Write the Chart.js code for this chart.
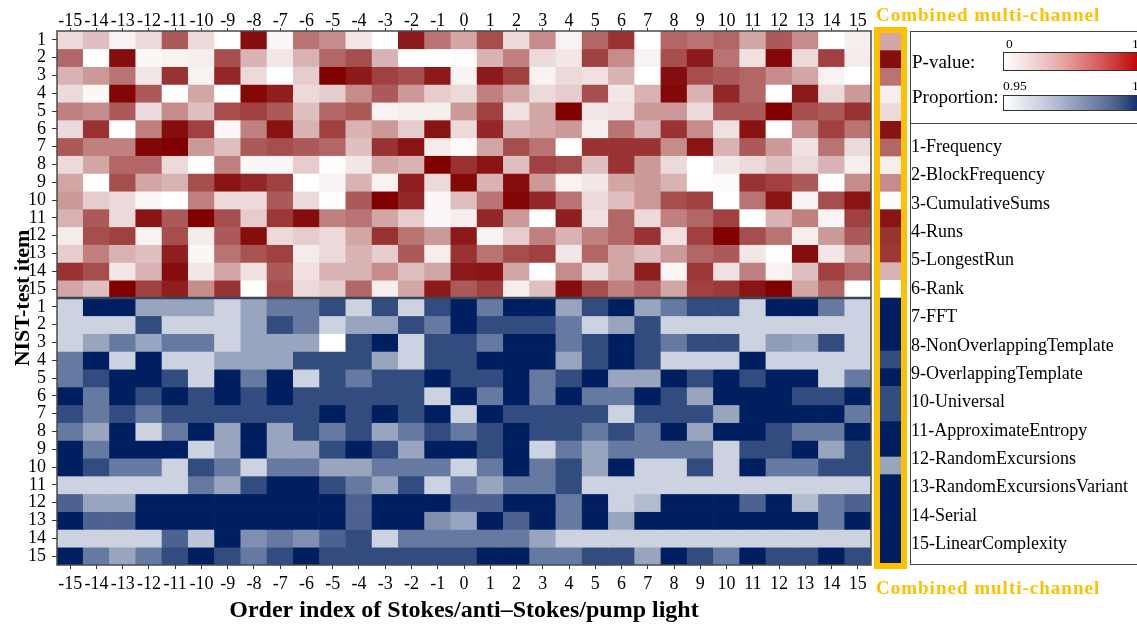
<!DOCTYPE html>
<html>
<head>
<meta charset="utf-8">
<script src="https://cdn.jsdelivr.net/npm/chart.js@4/dist/chart.umd.min.js"></script>
<style>
  html, body { margin: 0; padding: 0; background: #fff; }
  body { width: 1137px; height: 627px; position: relative; overflow: hidden;
         font-family: 'Liberation Serif', 'Times New Roman', serif; color: #000; }
  #main { position: absolute; left: 0; top: 0; }
  #combFrame { position: absolute; left: 874px; top: 27px; width: 21px; height: 530px;
               border: 6px solid #ffc000; }
  #comb { display: block; }
  .combTitle { position: absolute; left: 876px; font-weight: bold; font-size: 19px; line-height: 1;
               letter-spacing: 1px; color: #ffc000; white-space: nowrap; }
  #legendBox { position: absolute; left: 910px; top: 31px; width: 240px; height: 534px;
               border: 1.5px solid #444; box-sizing: border-box; }
  #legendDivider { position: absolute; left: 910px; top: 122.5px; width: 240px; height: 0;
                   border-top: 1.5px solid #444; }
  .lgText { position: absolute; line-height: 1; white-space: nowrap; }
  .bar { position: absolute; left: 1003px; width: 150px; box-sizing: border-box; border: 1.5px solid #333; }
  #pBar { top: 52px; height: 19px;
          background: linear-gradient(to right, #ffffff 0%, #f2d4d4 20%, #e6a4a4 40%, #d86a6a 60%, #c83232 78%, #c00000 92%, #a80000 100%); }
  #qBar { top: 95px; height: 16px;
          background: linear-gradient(to right, #ffffff 0%, #c9d0df 25%, #8e9bbb 50%, #4f6290 75%, #0a2a66 92%, #002060 100%); }
  #testList { position: absolute; left: 911px; top: 132px; }
  #testList div { height: 28.36px; line-height: 28.36px; font-size: 18px; white-space: nowrap; }
</style>
</head>
<body>
<canvas id="main" width="880" height="627"></canvas>
<div id="combFrame"><canvas id="comb" width="21" height="530"></canvas></div>
<div class="combTitle" style="top:5px;">Combined multi-channel</div>
<div class="combTitle" style="top:578px;">Combined multi-channel</div>

<div id="legendBox"></div>
<div id="legendDivider"></div>
<div class="lgText" style="left:912px; top:52px; font-size:19px;">P-value:</div>
<div class="lgText" style="left:912px; top:87px; font-size:19px;">Proportion:</div>
<div class="lgText" style="left:1006px; top:37px; font-size:13.5px;">0</div>
<div class="lgText" style="left:1132px; top:37px; font-size:13.5px;">1</div>
<div class="lgText" style="left:1003px; top:79px; font-size:13.5px;">0.95</div>
<div class="lgText" style="left:1132px; top:79px; font-size:13.5px;">1</div>
<div class="bar" id="pBar"></div>
<div class="bar" id="qBar"></div>
<div id="testList"></div>

<script>
// Order indices of the Stokes / anti-Stokes / pump lines (columns)
const orderLabels = ['-15','-14','-13','-12','-11','-10','-9','-8','-7','-6','-5','-4','-3','-2','-1',
                     '0','1','2','3','4','5','6','7','8','9','10','11','12','13','14','15'];

// NIST SP800-22 test items
const testNames = ['Frequency','BlockFrequency','CumulativeSums','Runs','LongestRun','Rank','FFT',
  'NonOverlappingTemplate','OverlappingTemplate','Universal','ApproximateEntropy',
  'RandomExcursions','RandomExcursionsVariant','Serial','LinearComplexity'];

// P-values, one row per test item, one entry per order index (-15 .. 15)
const pValueRows = [
  [0.15,0.25,0.05,0.15,0.65,0.15,0.0,0.95,0.03,0.55,0.45,0.1,0.0,0.9,0.55,0.35,0.7,0.15,0.45,0.05,0.6,0.8,0.0,0.6,0.55,0.6,0.35,0.65,0.45,0.0,0.07],
  [0.6,0.0,0.95,0.03,0.05,0.07,0.7,0.3,0.1,0.3,0.6,0.7,0.3,0.0,0.0,0.01,0.3,0.5,0.15,0.1,0.75,0.45,0.05,0.7,0.9,0.55,0.12,0.97,0.15,0.75,0.08],
  [0.3,0.4,0.55,0.1,0.8,0.05,0.85,0.15,0.0,0.2,1.0,0.9,0.75,0.7,0.9,0.05,0.9,0.75,0.05,0.15,0.12,0.3,0.0,0.95,0.7,0.65,0.6,0.45,0.35,0.05,0.0],
  [0.15,0.03,0.98,0.65,0.0,0.35,0.0,0.97,0.88,0.15,0.2,0.45,0.65,0.4,0.2,0.15,0.5,0.35,0.15,0.2,0.7,0.1,0.3,0.97,0.3,0.85,0.6,0.0,0.9,0.15,0.4],
  [0.5,0.45,0.65,0.15,0.45,0.25,0.7,0.75,0.65,0.25,0.6,0.65,0.05,0.07,0.07,0.4,0.75,0.12,0.35,1.0,0.1,0.12,0.4,0.4,0.15,0.65,0.65,1.0,0.7,0.65,0.8],
  [0.15,0.8,0.0,0.5,0.95,0.75,0.03,0.5,0.93,0.3,0.75,0.3,0.4,0.2,0.92,0.15,0.85,0.3,0.35,0.4,0.07,0.55,0.3,0.8,0.45,0.12,0.93,0.0,0.45,0.75,0.55],
  [0.65,0.5,0.5,0.98,1.0,0.4,0.25,0.65,0.7,0.65,0.6,0.25,0.8,0.92,0.08,0.02,0.35,0.7,0.55,0.0,0.8,0.8,0.8,0.45,0.92,0.3,0.65,0.4,0.12,0.55,0.15],
  [0.15,0.35,0.6,0.6,0.15,0.0,0.5,0.03,0.03,0.2,0.01,0.1,0.35,0.3,1.0,0.8,0.92,0.25,0.75,0.7,0.25,0.8,0.4,0.15,0.0,0.1,0.15,0.25,0.15,0.3,0.07],
  [0.35,0.0,0.7,0.35,0.3,0.7,0.92,0.85,0.75,0.0,0.05,0.3,0.05,0.88,0.15,0.97,0.3,0.95,0.4,0.05,0.1,0.35,0.4,0.3,0.0,0.02,0.8,0.75,0.65,0.0,0.45],
  [0.4,0.2,0.15,0.03,0.0,0.5,0.15,0.15,0.65,0.15,0.01,0.65,1.0,0.85,0.03,0.25,0.55,0.98,0.85,0.55,0.15,0.25,0.4,0.7,0.75,0.0,0.55,0.92,0.05,0.7,0.92],
  [0.3,0.65,0.15,0.92,0.65,1.0,0.7,0.2,0.78,0.95,0.5,0.55,0.35,0.2,0.03,0.07,0.85,0.4,0.0,0.88,0.12,0.6,0.15,0.5,0.6,0.75,0.0,0.3,0.5,0.04,0.75],
  [0.08,0.7,0.75,0.05,0.7,0.08,0.65,0.95,0.15,0.2,0.15,0.35,0.8,0.55,0.4,0.9,0.05,0.2,0.5,0.3,0.5,0.6,0.8,0.12,0.75,1.0,0.7,0.55,0.07,0.4,0.65],
  [0.2,0.5,0.3,0.25,0.88,0.03,0.55,0.68,0.75,0.08,0.15,0.3,0.2,0.65,0.07,0.8,0.55,0.7,0.75,0.1,0.6,0.35,0.25,0.4,0.6,0.65,0.1,0.0,0.95,0.1,0.35],
  [0.8,0.7,0.1,0.3,0.95,0.1,0.35,0.12,0.65,0.12,0.3,0.3,0.45,0.25,0.35,0.9,0.92,0.35,0.0,0.45,0.15,0.35,0.88,0.04,0.78,0.12,0.5,0.05,0.25,0.75,0.6],
  [0.35,0.25,1.0,0.75,0.88,0.45,0.8,0.0,0.7,0.15,0.2,0.6,0.07,0.35,0.9,0.65,0.75,0.07,0.25,0.95,0.7,0.5,0.6,0.35,0.75,0.78,0.92,1.0,0.35,0.6,0.0]
];

// Pass proportions, same layout
const proportionRows = [
  [0.96,1,1,0.97,0.97,0.97,0.96,0.97,0.98,0.98,0.99,0.96,0.99,0.96,0.99,1,0.98,1,1,0.97,0.99,1,0.97,0.98,0.99,0.99,0.96,1,1,0.98,0.96],
  [0.96,0.96,0.96,0.99,0.96,0.96,0.96,0.97,0.99,0.98,0.96,0.97,0.97,0.99,0.98,1,0.99,0.99,0.99,0.98,0.96,0.97,0.99,0.96,0.96,0.96,0.96,0.96,0.96,0.96,0.96],
  [0.96,0.97,0.98,0.97,0.98,0.98,0.96,0.97,0.97,0.97,0.95,0.99,1,0.96,0.99,0.99,0.98,1,1,0.98,0.99,1,0.99,0.98,0.99,0.99,0.96,0.972,0.97,0.99,0.96],
  [0.98,1,0.96,1,0.96,0.96,0.97,0.97,0.97,0.99,0.99,0.99,0.97,0.96,0.99,0.99,1,1,1,0.97,0.99,1,0.99,0.96,0.96,0.96,1,0.96,0.96,0.96,0.96],
  [0.98,0.99,1,1,0.99,0.96,1,0.98,1,0.96,0.99,0.98,0.99,0.99,1,0.99,0.99,1,0.98,0.99,1,0.97,0.97,1,0.99,1,0.99,1,1,0.96,0.98],
  [1,0.98,1,0.99,1,0.99,1,0.99,1,0.99,0.99,0.99,0.99,0.99,0.96,1,0.98,1,0.98,1,0.98,0.98,1,0.99,0.97,1,1,1,0.99,0.99,1],
  [0.99,0.98,0.99,0.98,0.99,0.99,0.99,0.99,0.99,0.99,1,0.99,1,0.99,1,0.96,1,0.99,0.99,0.99,0.99,0.96,0.99,0.99,0.99,0.97,1,1,1,1,0.98],
  [0.98,0.97,1,0.96,0.98,1,0.97,1,0.97,0.99,0.98,0.99,0.97,0.98,0.99,0.98,0.99,1,0.99,0.99,0.98,0.99,0.98,1,0.97,1,1,0.99,0.98,0.98,1],
  [1,0.98,1,1,1,0.96,0.97,1,0.97,0.97,0.99,1,0.99,0.97,1,1,0.99,1,0.96,0.98,0.97,0.98,0.98,0.98,0.98,0.96,0.99,0.99,1,0.97,0.99],
  [1,0.99,0.98,0.98,0.96,0.99,0.98,0.96,0.98,0.98,0.97,0.97,0.98,0.98,0.98,0.96,0.98,1,0.98,0.99,0.97,1,0.96,0.96,0.99,0.96,1,0.98,0.98,0.99,0.99],
  [0.96,0.96,0.96,0.96,0.96,0.98,0.97,0.99,1,1,0.99,0.98,0.97,0.99,0.96,0.98,0.97,0.98,0.98,0.99,0.96,0.96,0.96,0.96,0.96,0.96,0.96,0.96,0.96,0.96,0.96],
  [0.985,0.97,0.97,1,1,1,1,1,1,1,1,0.985,1,1,1,0.985,0.985,1,1,0.98,1,0.96,0.965,1,1,1,0.985,1,0.965,0.98,0.985],
  [1,0.985,0.985,1,1,1,1,1,1,1,1,0.985,1,1,0.975,0.97,1,0.985,1,0.98,1,0.97,1,1,1,1,1,1,1,0.98,1],
  [0.96,0.96,0.96,0.96,0.985,0.963,1,0.975,0.98,0.975,0.985,0.99,0.96,0.98,0.98,0.98,0.98,0.98,0.97,0.96,0.96,0.96,0.96,0.96,0.96,0.96,0.96,0.96,0.96,0.96,0.96],
  [1,0.98,0.97,0.98,0.99,1,0.99,0.98,0.99,1,0.99,0.99,0.99,0.99,0.99,0.99,1,1,0.98,0.98,0.99,0.99,0.97,1,0.99,0.98,1,0.99,0.99,1,0.99]
];

// Combined multi-channel results per test item
const combinedPValues = [0.35,0.95,0.55,0.07,0.15,0.93,0.6,0.07,0.45,0.02,0.92,0.8,0.78,0.3,0.0];
const combinedProportions = [1,1,1,0.99,1,0.99,0.99,1,1,0.97,1,1,1,1,1];

// Row tick labels: test numbers for the P-value block, then again for the proportion block
const itemNumbers = testNames.map((_, i) => String(i + 1));
const rowLabels = itemNumbers.concat(itemNumbers);

const PROP_MIN = 0.95;
const SERIF = "'Liberation Serif', 'Times New Roman', serif";

function mix(rgb, t) {
  t = Math.max(0, Math.min(1, t));
  const c = rgb.map(v => Math.round(255 + (v - 255) * t));
  return `rgb(${c[0]},${c[1]},${c[2]})`;
}
const pColor = v => mix([128, 0, 0], v);
const qColor = v => mix([0, 31, 96], (v - PROP_MIN) / (1 - PROP_MIN));

// One dataset per heat-map row; each bar spans one row on the linear y scale
const rowColors = pValueRows.map(r => r.map(pColor)).concat(proportionRows.map(r => r.map(qColor)));
const datasets = rowColors.map((colors, r) => ({
  data: colors.map(() => [r, r + 1]),
  backgroundColor: colors,
  borderWidth: 0,
  grouped: false,
  barPercentage: 1,
  categoryPercentage: 1,
  xAxisID: 'x',
  yAxisID: 'y'
}));

const frame = {
  id: 'frame',
  afterDatasetsDraw(chart) {
    const { ctx, chartArea: a, scales: { y } } = chart;
    ctx.save();
    const ySplit = y.getPixelForValue(pValueRows.length);
    ctx.strokeStyle = '#38465a';
    ctx.lineWidth = 2.5;
    ctx.beginPath();
    ctx.moveTo(a.left, ySplit);
    ctx.lineTo(a.right, ySplit);
    ctx.stroke();
    ctx.strokeStyle = '#4a4a4a';
    ctx.lineWidth = 1.5;
    ctx.strokeRect(a.left, a.top, a.right - a.left, a.bottom - a.top);
    ctx.restore();
  }
};

const tickFont = { family: SERIF, size: 18 };
const xAxisBase = {
  type: 'category',
  offset: true,
  border: { display: false },
  grid: { display: true, drawOnChartArea: false, offset: false, tickLength: 4, color: '#333', tickColor: '#333', tickWidth: 1 },
  ticks: { font: tickFont, color: '#000', autoSkip: false, maxRotation: 0, minRotation: 0, padding: 2 }
};

new Chart(document.getElementById('main'), {
  type: 'bar',
  data: { labels: orderLabels, datasets },
  options: {
    responsive: false,
    animation: false,
    devicePixelRatio: 1,
    layout: { padding: { left: 0, right: 9, top: 0, bottom: 0 } },
    plugins: { legend: { display: false }, tooltip: { enabled: false } },
    scales: {
      x: Object.assign({}, xAxisBase, {
        position: 'bottom',
        ticks: Object.assign({}, xAxisBase.ticks, { padding: 4 }),
        title: { display: true, text: 'Order index of Stokes/anti\u2013Stokes/pump light',
                 font: { family: SERIF, size: 24, weight: 'bold' }, color: '#000',
                 padding: { top: 0, bottom: 2 } },
        afterFit(scale) { scale.height = 62; }
      }),
      xTop: Object.assign({}, xAxisBase, {
        position: 'top',
        grid: Object.assign({}, xAxisBase.grid, { tickLength: 3 }),
        ticks: Object.assign({}, xAxisBase.ticks, { padding: -4 }),
        afterFit(scale) { scale.height = 31; }
      }),
      y: {
        type: 'linear',
        min: 0,
        max: rowLabels.length,
        reverse: true,
        border: { display: false },
        grid: { display: true, drawOnChartArea: false, tickLength: 5, color: '#333', tickColor: '#333' },
        afterBuildTicks(scale) { scale.ticks = rowLabels.map((_, i) => ({ value: i + 0.5 })); },
        ticks: { font: tickFont, color: '#000', padding: 6, autoSkip: false,
                 callback: (value, index) => rowLabels[index] },
        title: { display: true, text: 'NIST-test item',
                 font: { family: SERIF, size: 22, weight: 'bold' }, color: '#000',
                 padding: { top: 10, bottom: 0 } },
        afterFit(scale) { scale.width = 57; }
      }
    }
  },
  plugins: [frame]
});

// Combined multi-channel column
const combinedColors = combinedPValues.map(pColor).concat(combinedProportions.map(qColor));
new Chart(document.getElementById('comb'), {
  type: 'bar',
  data: {
    labels: rowLabels,
    datasets: [{
      data: combinedColors.map(() => 1),
      backgroundColor: combinedColors,
      borderWidth: 0,
      barPercentage: 1,
      categoryPercentage: 1
    }]
  },
  options: {
    indexAxis: 'y',
    responsive: false,
    animation: false,
    devicePixelRatio: 1,
    layout: { padding: 0 },
    plugins: { legend: { display: false }, tooltip: { enabled: false } },
    scales: {
      x: { display: false, min: 0, max: 1 },
      y: { display: false }
    }
  }
});

// Test-item key
const list = document.getElementById('testList');
testNames.forEach((name, i) => {
  const d = document.createElement('div');
  d.textContent = `${i + 1}-${name}`;
  list.appendChild(d);
});
</script>
</body>
</html>
